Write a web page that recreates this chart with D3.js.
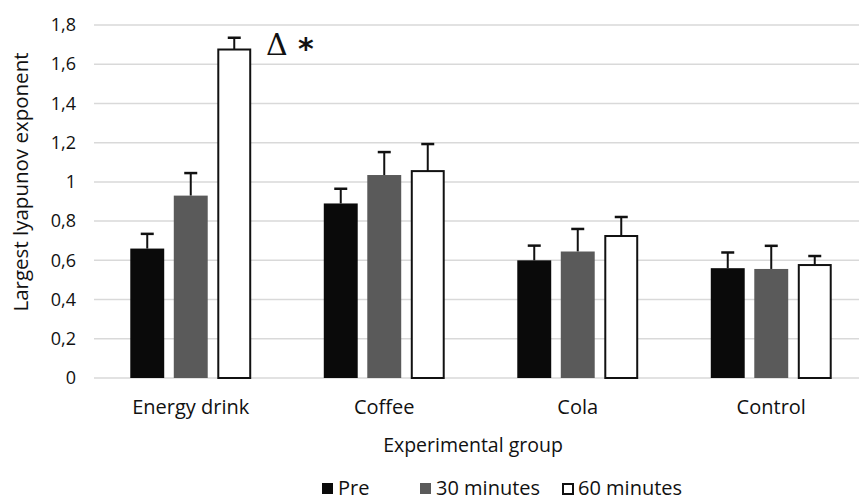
<!DOCTYPE html>
<html>
<head>
<meta charset="utf-8">
<script src="https://cdn.jsdelivr.net/npm/d3@7"></script>
<style>
  body { margin: 0; background: #fff; }
  text { font-family: "Open Sans", sans-serif; fill: #111; }
</style>
</head>
<body>
<div class="chart"></div>
<script>
const width = 859,
  height = 500;

const groups = ["Energy drink", "Coffee", "Cola", "Control"];
const series = ["Pre", "30 minutes", "60 minutes"];
const preValues = [0.66, 0.89, 0.6, 0.56];
const pre30Values = [0.93, 1.035, 0.645, 0.556];
const pre60Values = [1.675, 1.055, 0.724, 0.576];
const preErrors = [0.075, 0.075, 0.075, 0.08];
const min30Errors = [0.115, 0.117, 0.115, 0.118];
const min60Errors = [0.06, 0.138, 0.097, 0.046];
const yTicks = [0, 0.2, 0.4, 0.6, 0.8, 1, 1.2, 1.4, 1.6, 1.8];
const yTickLabels = ["0", "0,2", "0,4", "0,6", "0,8", "1", "1,2", "1,4", "1,6", "1,8"];
const colors = ["#0a0a0a", "#5a5a5a", "#ffffff"];

const rows = groups.map((g, i) => ({
  group: g,
  bars: [
    { s: series[0], v: preValues[i], e: preErrors[i] },
    { s: series[1], v: pre30Values[i], e: min30Errors[i] },
    { s: series[2], v: pre60Values[i], e: min60Errors[i] },
  ],
}));

const svg = d3
  .select(".chart")
  .append("svg")
  .attr("width", width)
  .attr("height", height);

const x0 = d3
  .scaleBand()
  .domain(groups)
  .range([94, 868])
  .paddingInner(0.375)
  .paddingOuter(0.1875);

const x1 = d3
  .scaleBand()
  .domain(series)
  .range([0, x0.bandwidth()])
  .paddingInner(0.22);

const y = d3.scaleLinear().domain([0, 1.8]).range([378, 25]);

const color = d3.scaleOrdinal().domain(series).range(colors);

// gridlines
svg
  .append("g")
  .selectAll("line")
  .data(yTicks)
  .enter()
  .append("line")
  .attr("x1", 94)
  .attr("x2", 868)
  .attr("y1", (d) => y(d))
  .attr("y2", (d) => y(d))
  .style("stroke", "#d9d9d9")
  .style("stroke-width", 1.5);

// y tick labels
const yAxis = d3
  .axisLeft(y)
  .tickValues(yTicks)
  .tickFormat((d, i) => yTickLabels[i])
  .tickSize(0)
  .tickPadding(0);

const yG = svg.append("g").attr("transform", "translate(76,0)").call(yAxis);
yG.select(".domain").remove();
yG.selectAll("text").style("font-size", "18px").style("font-family", "Open Sans, sans-serif").style("fill", "#111");

// bars
const groupG = svg
  .append("g")
  .selectAll("g")
  .data(rows)
  .enter()
  .append("g")
  .attr("transform", (d) => "translate(" + x0(d.group) + ",0)");

// error bars (drawn under the bars)
const err = groupG
  .selectAll(".err")
  .data((d) => d.bars)
  .enter()
  .append("g")
  .attr("class", "err");

err
  .append("line")
  .attr("x1", (d) => x1(d.s) + x1.bandwidth() / 2)
  .attr("x2", (d) => x1(d.s) + x1.bandwidth() / 2)
  .attr("y1", (d) => y(d.v))
  .attr("y2", (d) => y(d.v + d.e))
  .style("stroke", "#111")
  .style("stroke-width", 2);

err
  .append("line")
  .attr("x1", (d) => x1(d.s) + x1.bandwidth() / 2 - 6.5)
  .attr("x2", (d) => x1(d.s) + x1.bandwidth() / 2 + 6.5)
  .attr("y1", (d) => y(d.v + d.e))
  .attr("y2", (d) => y(d.v + d.e))
  .style("stroke", "#111")
  .style("stroke-width", 2.5);

groupG
  .selectAll("rect")
  .data((d) => d.bars)
  .enter()
  .append("rect")
  .attr("x", (d) => x1(d.s) + (d.s === series[2] ? 1 : 0))
  .attr("y", (d) => y(d.v))
  .attr("width", (d) => x1.bandwidth() - (d.s === series[2] ? 2 : 0))
  .attr("height", (d) => y(0) - y(d.v))
  .style("fill", (d) => color(d.s))
  .style("stroke", (d) => (d.s === series[2] ? "#111" : "none"))
  .style("stroke-width", 2);

// category labels
const xAxis = d3.axisBottom(x0).tickSize(0).tickPadding(0);
const xG = svg.append("g").attr("transform", "translate(0,400)").call(xAxis);
xG.select(".domain").remove();
xG.selectAll("text").style("font-size", "20px").style("font-family", "Open Sans, sans-serif").style("fill", "#111");

// axis titles
svg
  .append("text")
  .attr("x", 473)
  .attr("y", 452)
  .attr("text-anchor", "middle")
  .style("font-size", "19.5px")
  .text("Experimental group");

svg
  .append("text")
  .attr("transform", "translate(28,182) rotate(-90)")
  .attr("text-anchor", "middle")
  .style("font-size", "20.5px")
  .text("Largest lyapunov exponent");

// significance mark
svg
  .append("text")
  .attr("x", 266)
  .attr("y", 55)
  .style("font-family", "DejaVu Serif, serif")
  .style("font-size", "30px")
  .text("Δ");

svg
  .append("text")
  .attr("x", 298)
  .attr("y", 59)
  .style("font-family", "DejaVu Sans, sans-serif")
  .style("font-weight", "bold")
  .style("font-size", "30px")
  .text("*");

// legend
const legendX = [322, 420, 562];
const legend = svg
  .append("g")
  .selectAll("g")
  .data(series)
  .enter()
  .append("g")
  .attr("transform", (d, i) => "translate(" + legendX[i] + ",483)");

legend
  .append("rect")
  .attr("x", (d, i) => (i === 2 ? 1 : 0))
  .attr("y", (d, i) => (i === 2 ? 1 : 0))
  .attr("width", (d, i) => (i === 2 ? 10 : 11))
  .attr("height", (d, i) => (i === 2 ? 10 : 11))
  .style("fill", (d) => color(d))
  .style("stroke", (d, i) => (i === 2 ? "#111" : "none"))
  .style("stroke-width", 2);

legend
  .append("text")
  .attr("x", 16)
  .attr("y", 12)
  .style("font-size", "20px")
  .text((d) => d);
</script>
</body>
</html>
